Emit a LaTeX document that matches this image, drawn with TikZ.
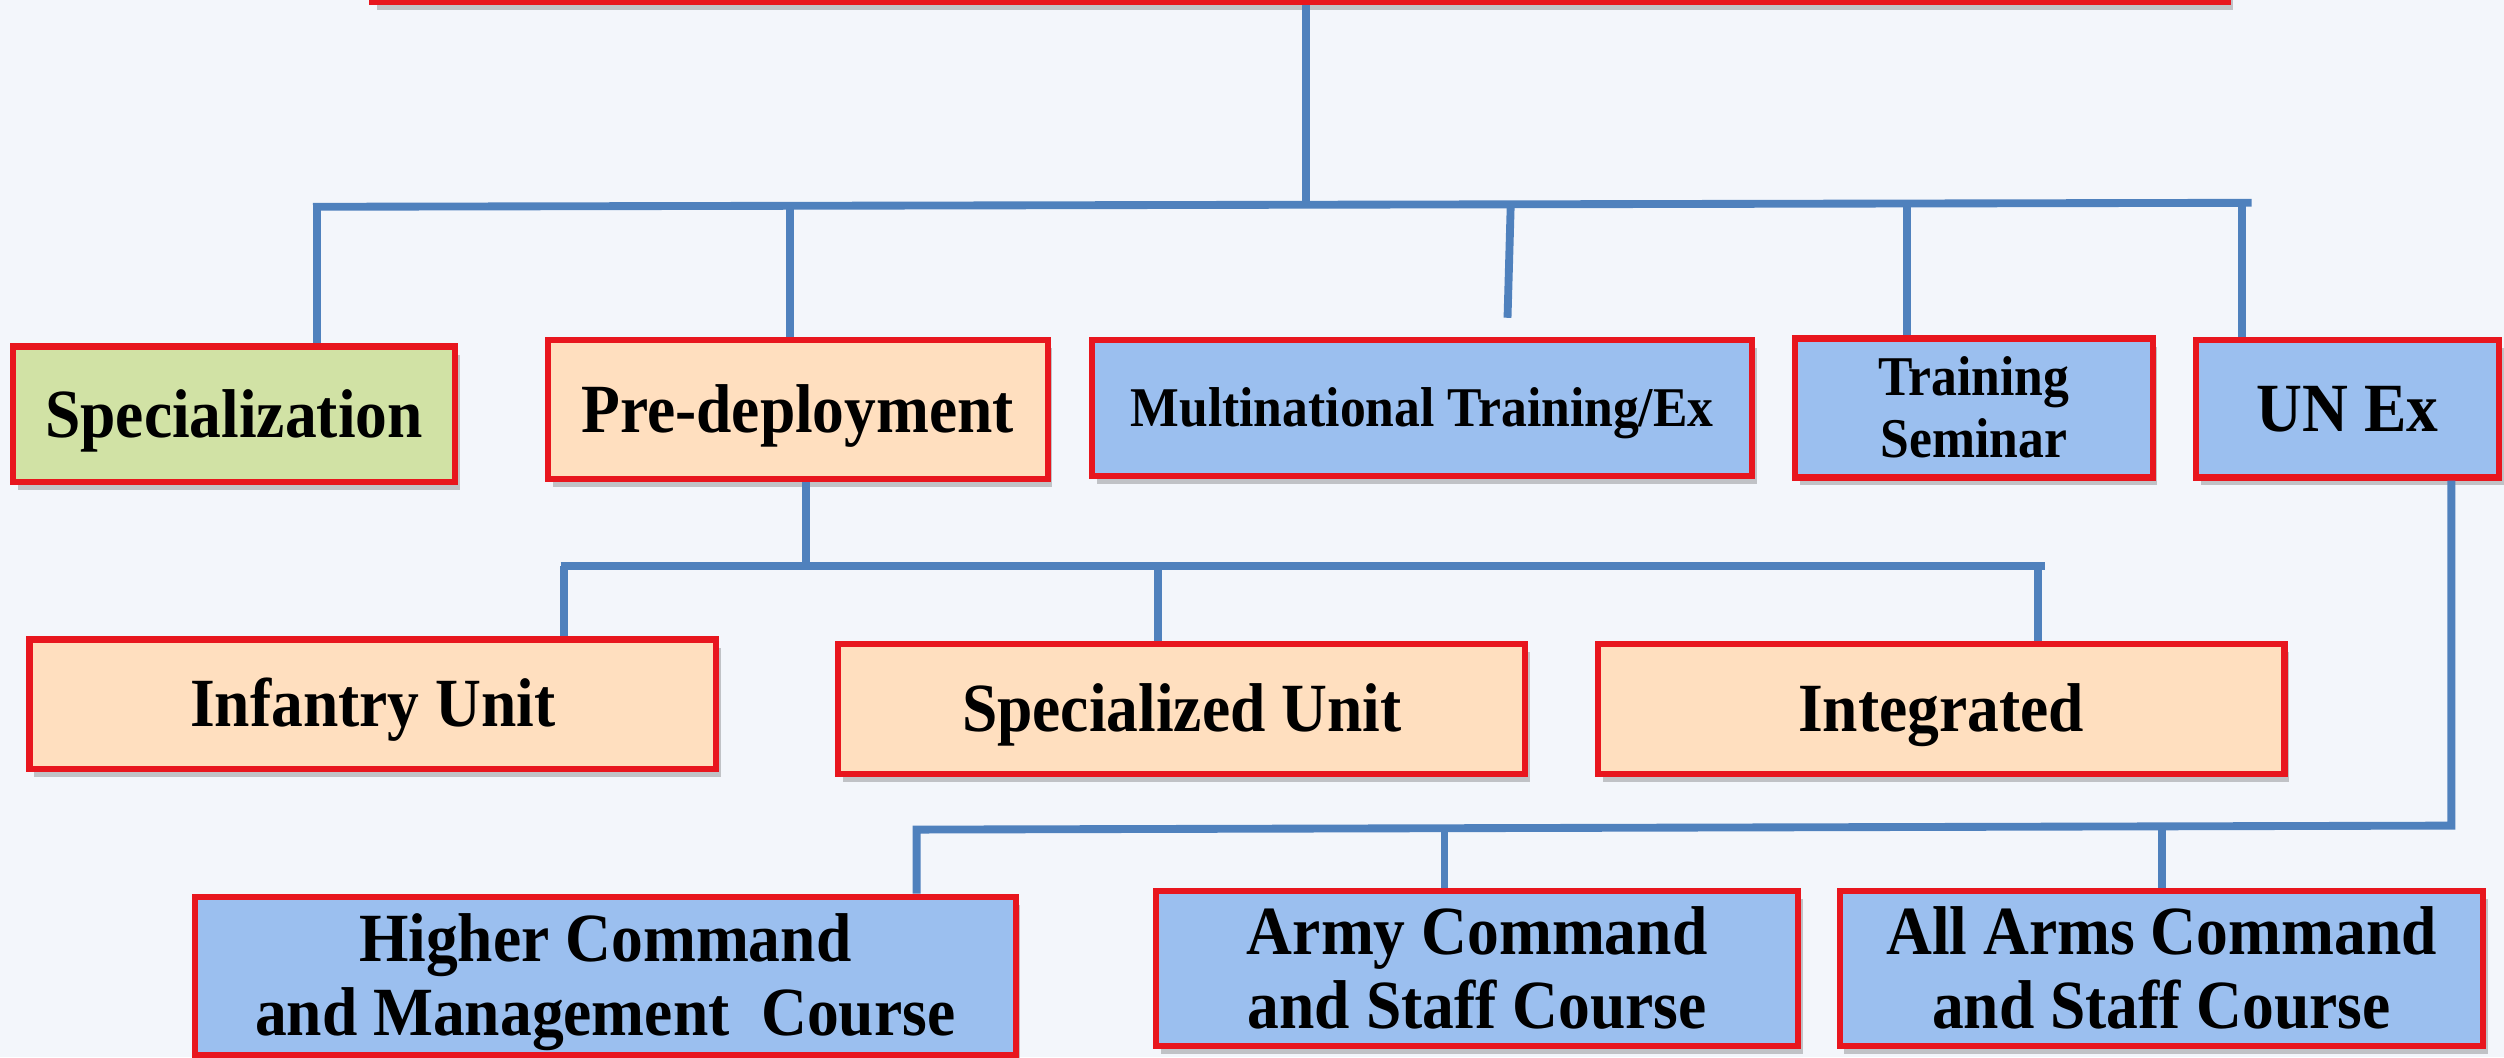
\documentclass[tikz,border=0pt]{standalone}
\usepackage{fontspec}
\setmainfont{Liberation Serif}[FakeStretch=0.92]
\usepackage{tikz}
\usetikzlibrary{shadows}
\definecolor{fundo}{HTML}{F3F6FB}
\definecolor{linha}{HTML}{4F81BD}
\definecolor{borda}{HTML}{E8161E}
\definecolor{cverde}{HTML}{D1E2A5}
\definecolor{cpessego}{HTML}{FFDFBF}
\definecolor{cazul}{HTML}{9BBFEF}

\begin{document}
\begin{tikzpicture}[x=1mm, y=-1mm,
  caixa/.style={draw=borda, line width=1.1pt, inner sep=0pt, align=center,
    text height=8.06pt, text depth=0pt,
    font=\bfseries\fontsize{12.3}{13.2}\selectfont,
    drop shadow={shadow xshift=0.3mm, shadow yshift=-0.5mm, fill=black!70, opacity=0.3}},
  dupla/.style={text height=21.26pt},
  menor/.style={font=\bfseries\fontsize{10}{11.1}\selectfont, text height=6.55pt},
  liga/.style={draw=linha, line width=1.4pt}]
% Fundo
\fill[fundo] (0,0) rectangle (156.8,66.2);
\useasboundingbox (0,0) rectangle (156.8,66.2);
% Caixa de topo
\node[caixa, fill=cazul, minimum width=116.2mm, minimum height=12mm] (topo) at (81.4,-5.85) {};
% Primeiro nivel
\node[caixa, fill=cverde, minimum width=27.7mm, minimum height=8.5mm] (espec) at (14.65,25.95) {Specialization};
\node[caixa, fill=cpessego, minimum width=31.3mm, minimum height=8.7mm] (predep) at (49.95,25.65) {Pre-deployment};
\node[caixa, menor, fill=cazul, minimum width=41.3mm, minimum height=8.5mm] (multi) at (89.05,25.55) {Multinational Training/Ex};
\node[caixa, menor, text height=17.65pt, fill=cazul, minimum width=22.4mm, minimum height=8.7mm] (semin) at (123.6,25.55) {Training\\Seminar};
\node[caixa, fill=cazul, minimum width=19mm, minimum height=8.6mm] (unex) at (147.0,25.6) {UN Ex};
% Segundo nivel
\node[caixa, fill=cpessego, minimum width=43mm, minimum height=8.1mm] (infant) at (23.35,44.1) {Infantry Unit};
\node[caixa, fill=cpessego, minimum width=43mm, minimum height=8.1mm] (especu) at (74.0,44.4) {Specialized Unit};
\node[caixa, fill=cpessego, minimum width=43mm, minimum height=8.1mm] (integ) at (121.55,44.4) {Integrated};
% Terceiro nivel
\node[caixa, dupla, fill=cazul, minimum width=51.4mm, minimum height=9.9mm] (hcmc) at (37.9,61.1) {Higher Command\\and Management~~Course};
\node[caixa, dupla, fill=cazul, minimum width=40.2mm, minimum height=9.7mm] (acsc) at (92.5,60.65) {Army Command\\and Staff Course};
\node[caixa, dupla, fill=cazul, minimum width=40.3mm, minimum height=9.7mm] (aacsc) at (135.35,60.65) {All Arms Command\\and Staff Course};
% Ligacoes do topo
\coordinate (j0) at (81.8,12.9);
\coordinate (jE) at (19.6,12.95);
\coordinate (jD) at (141.0,12.7);
\draw[liga] (topo.south -| j0) -- (j0);
\draw[liga] (jE) -- (jD);
\coordinate (r1) at (19.85,12.95);
\coordinate (r2) at (49.45,12.9);
\coordinate (r3) at (94.6,12.85);
\coordinate (f3) at (94.4,19.9);
\coordinate (r4) at (119.4,12.8);
\coordinate (r5) at (140.4,12.75);
\draw[liga] (r1) -- (r1 |- espec.north);
\draw[liga] (r2) -- (r2 |- predep.north);
\draw[liga] (r3) -- (f3);
\draw[liga] (r4) -- (r4 |- semin.north);
\draw[liga] (r5) -- (r5 |- unex.north);
% Ligacoes do pre-deployment
\coordinate (s0) at (50.45,35.2);
\coordinate (sE) at (35.1,35.47);
\coordinate (sD) at (128.05,35.47);
\draw[liga] (predep.south -| s0) -- (s0);
\draw[liga] (sE) -- (sD);
\coordinate (s1) at (35.3,35.47);
\coordinate (s2) at (72.5,35.47);
\coordinate (s3) at (127.6,35.47);
\draw[liga] (s1) -- (s1 |- infant.north);
\draw[liga] (s2) -- (s2 |- especu.north);
\draw[liga] (s3) -- (s3 |- integ.north);
% Ligacoes do UN Ex
\coordinate (u1) at (153.5,51.7);
\coordinate (u2) at (57.4,51.95);
\draw[liga] (unex.south -| u1) -- (u1) -- (u2) -- (u2 |- hcmc.north);
\coordinate (u3) at (90.45,51.85);
\coordinate (u4) at (135.4,51.75);
\draw[liga] (u3) -- (u3 |- acsc.north);
\draw[liga] (u4) -- (u4 |- aacsc.north);
\end{tikzpicture}
\end{document}
